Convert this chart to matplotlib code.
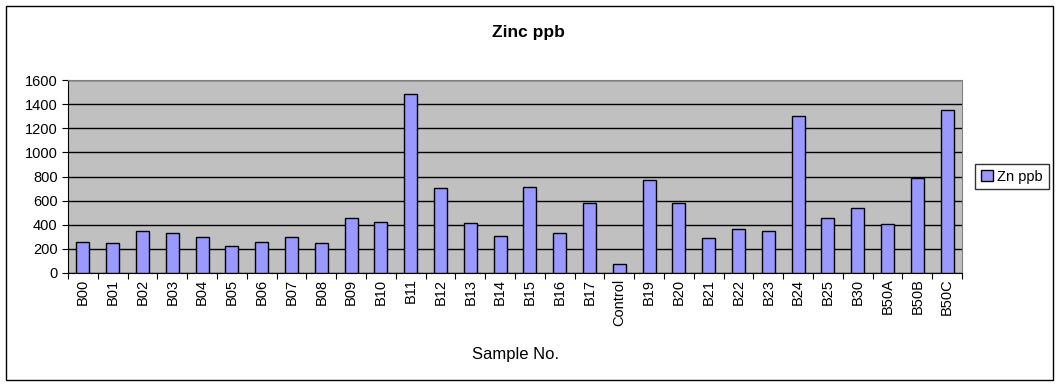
import matplotlib.pyplot as plt
from matplotlib.patches import Rectangle

samples = ['B00', 'B01', 'B02', 'B03', 'B04', 'B05', 'B06', 'B07', 'B08', 'B09',
           'B10', 'B11', 'B12', 'B13', 'B14', 'B15', 'B16', 'B17', 'Control', 'B19',
           'B20', 'B21', 'B22', 'B23', 'B24', 'B25', 'B30', 'B50A', 'B50B', 'B50C']
zn_ppb = [255, 245, 350, 335, 295, 220, 255, 295, 245, 460,
          420, 1485, 705, 415, 305, 710, 330, 580, 75, 770,
          580, 290, 365, 348, 1300, 455, 540, 405, 790, 1350]
y_ticks = [0, 200, 400, 600, 800, 1000, 1200, 1400, 1600]

plt.rcParams['font.family'] = ['Liberation Sans', 'DejaVu Sans']

fig = plt.figure(figsize=(10.59, 3.86), dpi=100)
ax = fig.add_axes([68/1059, 1 - 273/386, 894/1059, 193/386])

# outer chart border
fig.patches.append(Rectangle((6/1059, 1 - 380/386), 1047/1059, 374/386,
                             transform=fig.transFigure, fill=False,
                             edgecolor='black', linewidth=1))

x = range(len(samples))
ax.set_facecolor('#C0C0C0')
ax.bar(x, zn_ppb, width=0.44, color='#9999FF', edgecolor='black',
       linewidth=1, label='Zn ppb', zorder=3)

ax.set_xlim(-0.5, len(samples) - 0.5)
ax.set_ylim(0, 1600)
ax.set_yticks(y_ticks)
ax.yaxis.grid(True, color='black', linewidth=1, zorder=1)
ax.set_axisbelow(True)

ax.set_xticks([i - 0.5 for i in range(len(samples) + 1)], minor=False)
ax.set_xticklabels([''] * (len(samples) + 1))
ax.set_xticks(list(x), minor=True)
ax.set_xticklabels(samples, minor=True, rotation=90, fontsize=10.5)
ax.tick_params(axis='x', which='minor', length=0, pad=4)
ax.tick_params(axis='x', which='major', length=4, direction='out')
ax.tick_params(axis='y', length=4, direction='out', labelsize=10.5)

for s in ['top', 'right']:
    ax.spines[s].set_color('#808080')
for s in ['left', 'bottom']:
    ax.spines[s].set_color('black')

fig.text(528/1059, 1 - 32/386, 'Zinc ppb', ha='center', va='center',
         fontsize=12.5, fontweight='bold')
fig.text(515/1059, 1 - 354/386, 'Sample No.', ha='center', va='center',
         fontsize=12)

leg = ax.legend(loc='center left', bbox_to_anchor=(968/894 - 68/894, 0.5),
                frameon=True, fancybox=False, fontsize=10.5,
                handlelength=0.8, handleheight=0.8, handletextpad=0.3,
                borderpad=0.4)
leg.get_frame().set_edgecolor('black')
leg.get_frame().set_linewidth(1)

plt.savefig('out.png', dpi=100)
